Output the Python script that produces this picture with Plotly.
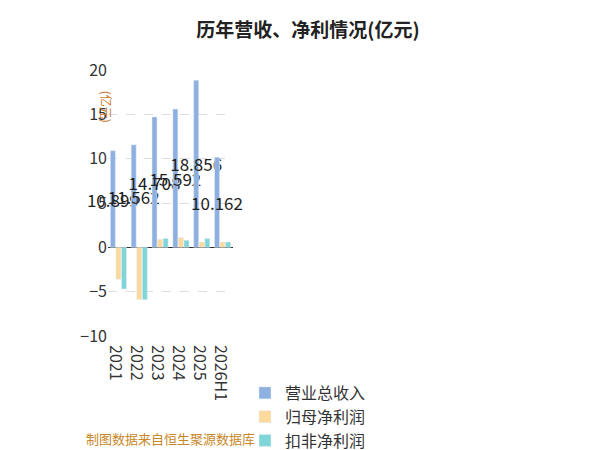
import plotly.graph_objects as go

years = ["2021", "2022", "2023", "2024", "2025", "2026H1"]
revenue = [10.899, 11.562, 14.708, 15.592, 18.856, 10.162]
net_profit = [-3.6, -5.9, 0.9, 1.1, 0.6, 0.6]
deducted_profit = [-4.7, -5.9, 1.0, 0.8, 1.0, 0.6]

fig = go.Figure()
fig.add_trace(go.Bar(x=years, y=revenue, name="营业总收入", marker_color="#8eb0e0",
                     text=[f"{v:.3f}" for v in revenue], textposition="inside",
                     insidetextanchor="middle", textangle=0, textfont=dict(size=17, color="#222"),
                     constraintext="none", cliponaxis=False))
fig.add_trace(go.Bar(x=years, y=net_profit, name="归母净利润", marker_color="#fdd99c"))
fig.add_trace(go.Bar(x=years, y=deducted_profit, name="扣非净利润", marker_color="#80d5d8"))

fig.update_layout(
    width=600, height=450, barmode="group", bargap=0.2, bargroupgap=0.1,
    paper_bgcolor="white", plot_bgcolor="white",
    font=dict(family="Noto Sans CJK SC", color="#333"),
    title=dict(text="<b>历年营收、净利情况(亿元)</b>", x=0.5, y=0.965, font=dict(size=19, color="#222")),
    margin=dict(l=100, r=15, t=62, b=122),
    legend=dict(orientation="h", x=0.5, xanchor="center", xref="container", y=-0.2, font=dict(size=16)),
    uniformtext=dict(minsize=14, mode="show"),
    annotations=[
        dict(text="(亿元)", x=-0.093, y=0.93, xref="paper", yref="paper", textangle=90,
             showarrow=False, font=dict(size=12, color="#c8762a")),
        dict(text="制图数据来自恒生聚源数据库", x=0.5, xref="paper", y=-0.43, yref="paper",
             showarrow=False, font=dict(size=13, color="#c8882a")),
    ],
)
fig.update_yaxes(range=[-10, 20], dtick=5, showgrid=True, gridcolor="#ddd", griddash="dash",
                 zeroline=True, zerolinecolor="#333", zerolinewidth=1,
                 tickfont=dict(size=16), ticks="")
fig.update_xaxes(tickfont=dict(size=16))
fig.write_html("out.html")
